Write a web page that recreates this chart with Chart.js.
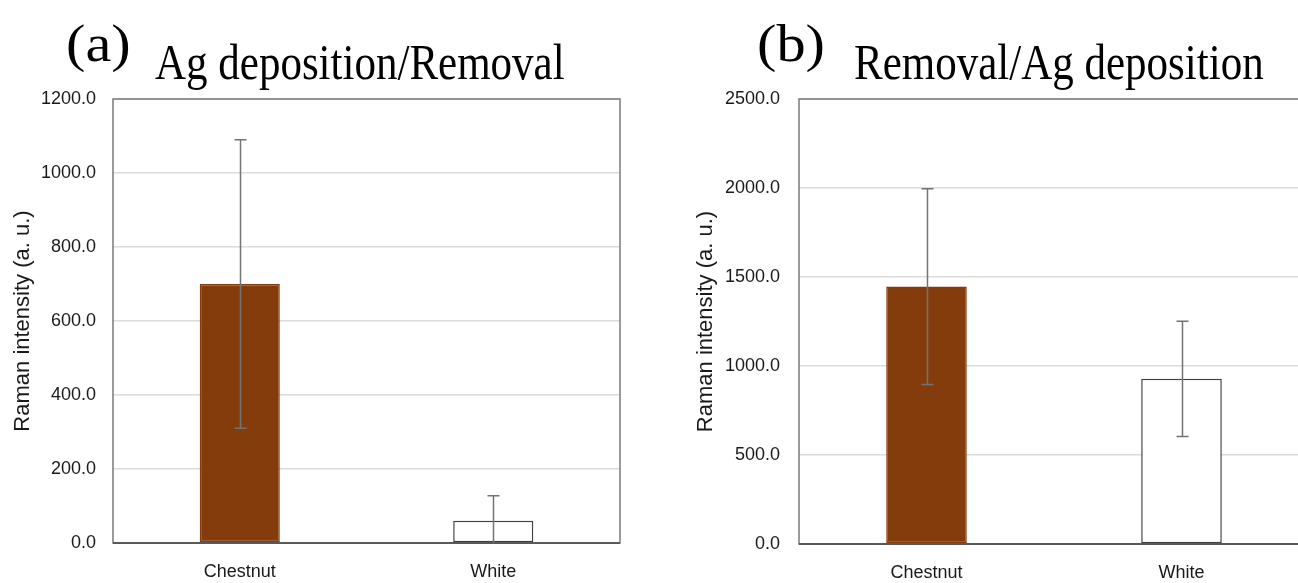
<!DOCTYPE html>
<html>
<head>
<meta charset="utf-8">
<script src="https://cdn.jsdelivr.net/npm/chart.js@4/dist/chart.umd.min.js"></script>
<style>
  html, body { margin: 0; padding: 0; background: #fff; }
  body { width: 1298px; height: 583px; overflow: hidden; position: relative; }
  canvas { position: absolute; top: 0; }
  #chartA { left: 0; }
  #chartB { left: 650px; }
</style>
</head>
<body>
<canvas id="chartA" width="650" height="583"></canvas>
<canvas id="chartB" width="680" height="583"></canvas>
<script>
// Sample categories shared by both panels
const categories = ['Chestnut', 'White'];

// Panel (a): Ag deposition followed by removal
const meansA = [700, 60];
const errorsA = [390, 68];
const maxA = 1200;
const stepA = 200;

// Panel (b): removal followed by Ag deposition
const meansB = [1446, 928];
const errorsB = [550, 324];
const maxB = 2500;
const stepB = 500;

// Text
const panelLabels = ['(a)', '(b)'];
const panelTitles = ['Ag deposition/Removal', 'Removal/Ag deposition'];
const axisTitle = 'Raman intensity (a. u.)';

const barFill = ['#843c0c', '#ffffff'];
const barEdge = ['#843c0c', '#404040'];

const sansFont = '"Liberation Sans", Arial, sans-serif';
const serifFont = '"Liberation Serif", "Times New Roman", serif';

// Grey plot frame plus darker baseline
const framePlugin = {
  id: 'plotFrame',
  afterDatasetsDraw(chart) {
    const { ctx, chartArea: a } = chart;
    ctx.save();
    ctx.strokeStyle = '#7a7a7a';
    ctx.lineWidth = 1.5;
    ctx.strokeRect(a.left, a.top, a.right - a.left, a.bottom - a.top);
    ctx.strokeStyle = '#595959';
    ctx.lineWidth = 2;
    ctx.beginPath();
    ctx.moveTo(a.left, a.bottom);
    ctx.lineTo(a.right, a.bottom);
    ctx.stroke();
    ctx.restore();
  }
};

// Symmetric error bars
const errorBarPlugin = {
  id: 'errorBars',
  afterDatasetsDraw(chart, args, opts) {
    const { ctx } = chart;
    const yScale = chart.scales.y;
    const meta = chart.getDatasetMeta(0);
    const values = chart.data.datasets[0].data;
    ctx.save();
    ctx.strokeStyle = '#737373';
    ctx.lineWidth = 1.5;
    meta.data.forEach((bar, i) => {
      const hi = values[i] + opts.errors[i];
      const lo = values[i] - opts.errors[i];
      const yHi = yScale.getPixelForValue(hi);
      const yLo = yScale.getPixelForValue(Math.max(lo, yScale.min));
      const x = Math.round(bar.x) + 0.5;
      ctx.beginPath();
      ctx.moveTo(x, yHi);
      ctx.lineTo(x, yLo);
      ctx.moveTo(x - 6, yHi);
      ctx.lineTo(x + 6, yHi);
      if (lo > yScale.min) {
        ctx.moveTo(x - 6, yLo);
        ctx.lineTo(x + 6, yLo);
      }
      ctx.stroke();
    });
    ctx.restore();
  }
};

// Panel letter and heading in serif type
const headingPlugin = {
  id: 'panelHeading',
  afterDraw(chart, args, opts) {
    const { ctx } = chart;
    ctx.save();
    ctx.fillStyle = '#000';
    ctx.textBaseline = 'alphabetic';
    ctx.textAlign = 'left';
    for (const t of opts.items) {
      ctx.save();
      ctx.translate(t.x, t.y);
      ctx.scale(t.sx, 1);
      ctx.font = t.size + 'px ' + serifFont;
      ctx.fillText(t.text, 0, 0);
      ctx.restore();
    }
    ctx.restore();
  }
};

function makePanel(canvasId, means, errors, maxVal, step, layout) {
  return new Chart(document.getElementById(canvasId), {
    type: 'bar',
    data: {
      labels: categories,
      datasets: [{
        data: means,
        backgroundColor: barFill,
        borderColor: barEdge,
        borderWidth: 1.5,
        borderSkipped: false,
        categoryPercentage: 1,
        barPercentage: 0.316
      }]
    },
    options: {
      responsive: false,
      animation: false,
      devicePixelRatio: 1,
      layout: { padding: { left: 0, top: layout.top, right: layout.right, bottom: 0 } },
      plugins: {
        legend: { display: false },
        tooltip: { enabled: false },
        errorBars: { errors: errors },
        panelHeading: { items: layout.headings }
      },
      scales: {
        x: {
          grid: { display: false, drawTicks: false },
          border: { display: false },
          ticks: { color: '#1a1a1a', padding: layout.xPad, font: { family: sansFont, size: 18 } },
          afterFit(scale) { scale.height = layout.xHeight; }
        },
        y: {
          min: 0,
          max: maxVal,
          grid: { color: '#dcdcdc', lineWidth: 1.5, drawTicks: false },
          border: { display: false },
          ticks: {
            stepSize: step,
            color: '#1a1a1a',
            padding: layout.yPad,
            font: { family: sansFont, size: 18 },
            callback: v => Number(v).toFixed(1)
          },
          title: {
            display: true,
            text: axisTitle,
            color: '#1a1a1a',
            font: { family: sansFont, size: 22 },
            padding: { top: layout.titlePad, bottom: 0 }
          },
          afterFit(scale) { scale.width = layout.yWidth; }
        }
      }
    },
    plugins: [framePlugin, errorBarPlugin, headingPlugin]
  });
}

makePanel('chartA', meansA, errorsA, maxA, stepA, {
  top: 99, right: 30, yWidth: 113, xHeight: 40, xPad: 18, yPad: 17, titlePad: 10,
  headings: [
    { text: panelLabels[0], x: 66, y: 61, size: 53, sx: 1.1 },
    { text: panelTitles[0], x: 155, y: 79, size: 50, sx: 0.86 }
  ]
});

makePanel('chartB', meansB, errorsB, maxB, stepB, {
  top: 99, right: 21, yWidth: 149, xHeight: 39, xPad: 18, yPad: 19, titlePad: 43,
  headings: [
    { text: panelLabels[1], x: 107, y: 61, size: 53, sx: 1.1 },
    { text: panelTitles[1], x: 204, y: 79, size: 50, sx: 0.86 }
  ]
});
</script>
</body>
</html>
